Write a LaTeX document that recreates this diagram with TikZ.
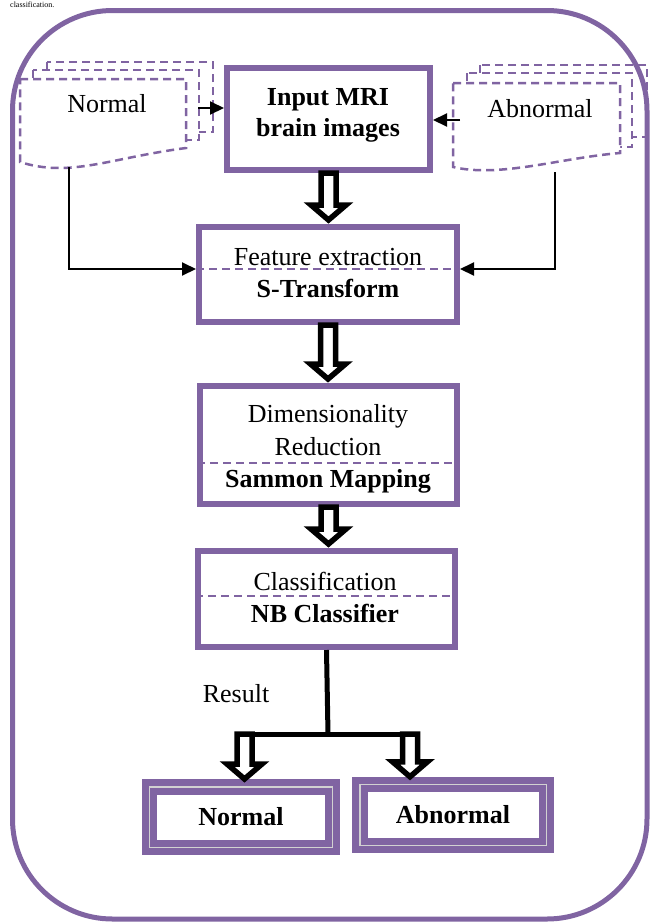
\documentclass[tikz,border=0pt]{standalone}
\usepackage{fontspec}
\setmainfont{Liberation Serif}
\usetikzlibrary{arrows.meta,calc}
\definecolor{lilac}{HTML}{8064A2}
% hollow block arrow between two anchors
\newcommand{\fatarrow}[2]{%
  \draw[fat] let \p1=(#1), \p2=(#2) in
    (\x1-7.5pt,\y1) -- (\x1-7.5pt,\y2+19pt) -- (\x1-17.5pt,\y2+19pt)
    -- (\x1,\y2+4pt) -- (\x1+17.5pt,\y2+19pt) -- (\x1+7.5pt,\y2+19pt)
    -- (\x1+7.5pt,\y1) -- cycle;}
\begin{document}
\begin{tikzpicture}[x=1pt, y=-1pt, font=\fontsize{26}{31}\selectfont,
    stage/.style={draw=lilac, line width=6pt, inner sep=0pt},
    lbl/.style={anchor=base, inner sep=0pt},
    doc/.style={draw=lilac, line width=2.5pt, dash pattern=on 8pt off 5pt, fill=white},
    divider/.style={draw=lilac, line width=2.2pt, dash pattern=on 8pt off 5pt},
    feed/.style={line width=2pt, -{Triangle[length=14pt,width=13pt]}},
    fat/.style={draw=black, fill=white, line width=5.5pt},
    trunk/.style={line width=5pt},
    result/.style={draw=lilac, line width=7pt, double=black!18, double distance=1.5pt,
      outer sep=7.75pt, inner sep=0pt},
    frame/.style={draw=lilac, line width=5pt, rounded corners=100pt}]
  \useasboundingbox (0,0) rectangle (650,922);
  % caption line above the frame
  \node[anchor=base west, inner sep=0pt, font=\fontsize{8}{9}\selectfont] (caption) at (10,7) {classification.};

  % Normal image stack
  \draw[doc] (47,62) rectangle (213,132);
  \draw[doc] (33,70) rectangle (199,140);
  \draw[doc] (20,79) -- (186,79) -- (186,148) .. controls (110,158) and (70,178) .. (20,162) -- cycle;
  \node[lbl] (normaltxt) at (107,112) {Normal};
  % Abnormal image stack
  \draw[doc] (480,65) rectangle (647,137);
  \draw[doc] (467,73) rectangle (632,147);
  \draw[doc] (453,83) -- (620,83) -- (620,153) .. controls (560,158) and (500,178) .. (453,167) -- cycle;
  \node[lbl] (abnormaltxt) at (540,117) {Abnormal};

  % stages
  \node[stage, minimum width=203, minimum height=102] (input) at (328.5,119) {};
  \node[stage, minimum width=258, minimum height=95] (feature) at (328,274.5) {};
  \node[stage, minimum width=257, minimum height=118] (dimred) at (328.5,445) {};
  \node[stage, minimum width=257, minimum height=96] (class) at (326.5,599) {};

  \draw[divider] (feature.west |- 0,269) -- (feature.east |- 0,269);
  \draw[divider] (dimred.west |- 0,463) -- (dimred.east |- 0,463);
  \draw[divider] (class.west |- 0,596) -- (class.east |- 0,596);

  \node[lbl] (inputtop) at (328,105) {\bfseries Input MRI};
  \node[lbl] (inputbot) at (328,136) {\bfseries brain images};
  \node[lbl] (featuretop) at (328,265) {Feature extraction};
  \node[lbl] (featurebot) at (328,297) {\bfseries S-Transform};
  \node[lbl] (dimredtop) at (328,422) {Dimensionality};
  \node[lbl] (dimredmid) at (328,455) {Reduction};
  \node[lbl] (dimredbot) at (328,487) {\bfseries Sammon Mapping};
  \node[lbl] (classtop) at (325,590) {Classification};
  \node[lbl] (classbot) at (325,622) {\bfseries NB Classifier};

  % thin feeds
  \coordinate (normalout) at (198,108);
  \coordinate (abnormalout) at (460,120);
  \coordinate (normaldrop) at (69,167);
  \coordinate (abnormaldrop) at (555,172);
  \draw[feed] (normalout) -- ([yshift=11pt]input.west);
  \draw[feed] (abnormalout) -- ([yshift=-1pt]input.east);
  \draw[feed] (normaldrop) |- ([yshift=5.5pt]feature.west);
  \draw[feed] (abnormaldrop) |- ([yshift=5.5pt]feature.east);

  % block arrows
  \fatarrow{input.south}{feature.north}
  \fatarrow{feature.south}{dimred.north}
  \fatarrow{dimred.south}{class.north}

  % result
  \node[result, minimum width=183, minimum height=60.5] (normalres) at (241,817) {\bfseries Normal};
  \node[result, minimum width=186.5, minimum height=61] (abnormalres) at (453,815) {\bfseries Abnormal};
  \node[lbl] (resulttxt) at (236,702) {Result};
  \coordinate (split) at (328,734);
  \coordinate (resleft) at (244.5,734);
  \coordinate (resright) at (410,734);
  \draw[trunk] (class.south) -- (split);
  \draw[trunk] ([xshift=-9.75pt]resleft) -- ([xshift=9.75pt]resright);
  \fatarrow{resleft}{[yshift=-4pt]normalres.north}
  \fatarrow{resright}{[yshift=-4pt]abnormalres.north}

  % outer frame
  \draw[frame] (12.5,10.5) rectangle (647,919);
\end{tikzpicture}
\end{document}
